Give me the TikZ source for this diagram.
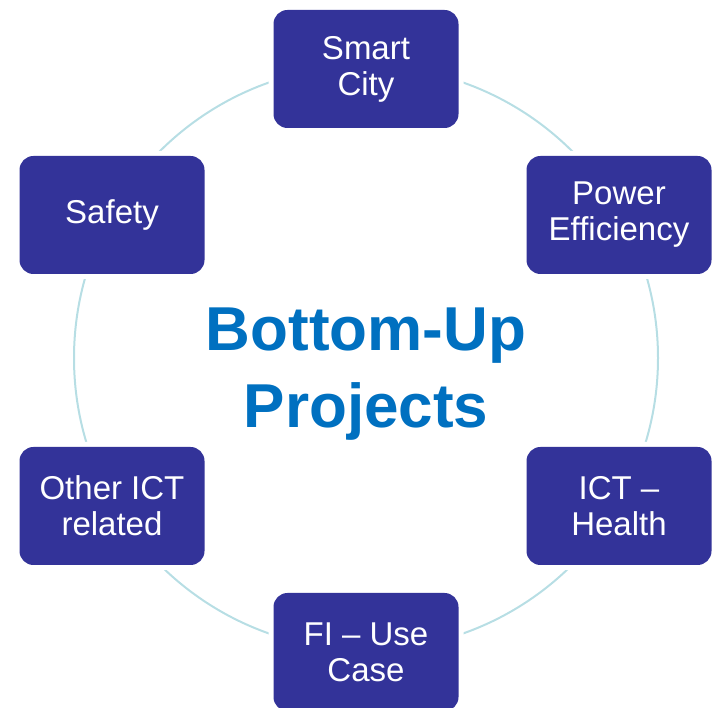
\documentclass[tikz,border=0pt]{standalone}
\usepackage{fontspec}
\setmainfont{Liberation Sans}
\usepackage{tikz}
\usetikzlibrary{positioning}

\definecolor{boxblue}{RGB}{51,51,153}
\definecolor{titleblue}{RGB}{0,112,192}
\definecolor{ringteal}{RGB}{183,222,228}

\begin{document}
\begin{tikzpicture}[x=1pt, y=1pt,
        topic/.style={rectangle, rounded corners=14pt, fill=boxblue, text=white,
            minimum width=185pt, minimum height=118pt, inner sep=0pt, align=center,
            font=\fontsize{33}{36}\selectfont,
            preaction={draw=white, line width=10pt}},
        ring/.style={draw=ringteal, line width=2pt}]
            \useasboundingbox (0, 0) rectangle (715, 707);
            \node[font=\bfseries\fontsize{62}{77}\selectfont, text=titleblue, align=center] (hub) at (366, 333) {Bottom-Up\\Projects};
            \coordinate (mid) at (366, 349);
            \draw[ring] (mid) circle (292);

            \node[topic] (city) at (366, 638) {Smart\\City};
            \node[topic] (power) at (619, 492) {Power\\Efficiency};
            \node[topic] (health) at (619, 201) {ICT --\\Health};
            \node[topic] (fi) at (366, 55) {FI -- Use\\Case};
            \node[topic] (other) at (112, 201) {Other ICT\\related};
            \node[topic] (safety) at (112, 492) {Safety};
        \end{tikzpicture}
\end{document}
